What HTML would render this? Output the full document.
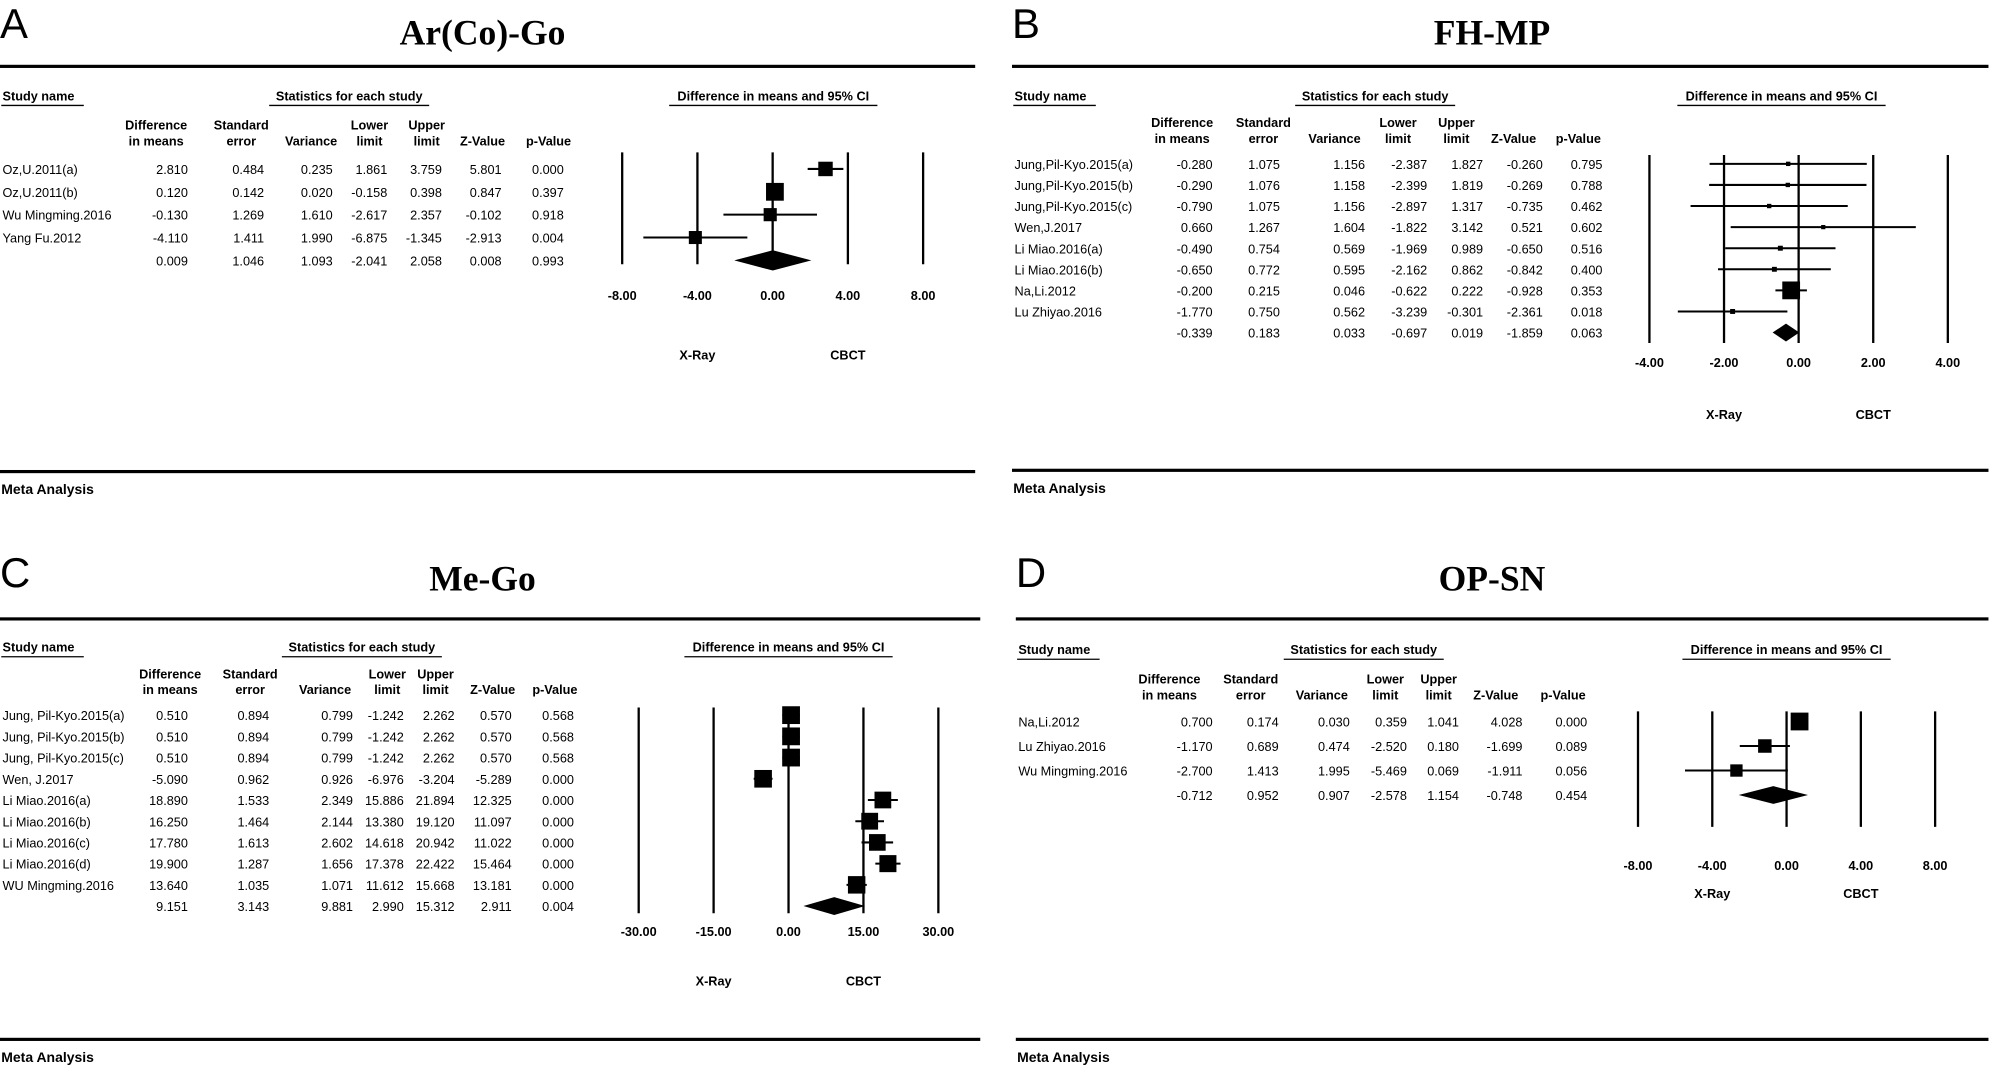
<!DOCTYPE html>
<html><head><meta charset="utf-8"><style>
html,body{margin:0;padding:0;background:#fff;overflow:hidden}
svg{display:block}
text{font-family:"Liberation Sans",Arial,sans-serif;fill:#000}
</style></head><body>
<svg id="fig" width="1991" height="1067" viewBox="0 0 1568 840" preserveAspectRatio="none" xmlns="http://www.w3.org/2000/svg"></svg>
<script>
// ---------- Panel A: Ar(Co)-Go ----------
const aNames=["Oz,U.2011(a)","Oz,U.2011(b)","Wu Mingming.2016","Yang Fu.2012",""];
const aDiff=[2.810,0.120,-0.130,-4.110,0.009];
const aSE=[0.484,0.142,1.269,1.411,1.046];
const aVar=[0.235,0.020,1.610,1.990,1.093];
const aLow=[1.861,-0.158,-2.617,-6.875,-2.041];
const aUp=[3.759,0.398,2.357,-1.345,2.058];
const aZ=[5.801,0.847,-0.102,-2.913,0.008];
const aP=[0.000,0.397,0.918,0.004,0.993];
const aTicks=[-8,-4,0,4,8];
// ---------- Panel B: FH-MP ----------
const bNames=["Jung,Pil-Kyo.2015(a)","Jung,Pil-Kyo.2015(b)","Jung,Pil-Kyo.2015(c)","Wen,J.2017","Li Miao.2016(a)","Li Miao.2016(b)","Na,Li.2012","Lu Zhiyao.2016",""];
const bDiff=[-0.280,-0.290,-0.790,0.660,-0.490,-0.650,-0.200,-1.770,-0.339];
const bSE=[1.075,1.076,1.075,1.267,0.754,0.772,0.215,0.750,0.183];
const bVar=[1.156,1.158,1.156,1.604,0.569,0.595,0.046,0.562,0.033];
const bLow=[-2.387,-2.399,-2.897,-1.822,-1.969,-2.162,-0.622,-3.239,-0.697];
const bUp=[1.827,1.819,1.317,3.142,0.989,0.862,0.222,-0.301,0.019];
const bZ=[-0.260,-0.269,-0.735,0.521,-0.650,-0.842,-0.928,-2.361,-1.859];
const bP=[0.795,0.788,0.462,0.602,0.516,0.400,0.353,0.018,0.063];
const bTicks=[-4,-2,0,2,4];
// ---------- Panel C: Me-Go ----------
const cNames=["Jung, Pil-Kyo.2015(a)","Jung, Pil-Kyo.2015(b)","Jung, Pil-Kyo.2015(c)","Wen, J.2017","Li Miao.2016(a)","Li Miao.2016(b)","Li Miao.2016(c)","Li Miao.2016(d)","WU Mingming.2016",""];
const cDiff=[0.510,0.510,0.510,-5.090,18.890,16.250,17.780,19.900,13.640,9.151];
const cSE=[0.894,0.894,0.894,0.962,1.533,1.464,1.613,1.287,1.035,3.143];
const cVar=[0.799,0.799,0.799,0.926,2.349,2.144,2.602,1.656,1.071,9.881];
const cLow=[-1.242,-1.242,-1.242,-6.976,15.886,13.380,14.618,17.378,11.612,2.990];
const cUp=[2.262,2.262,2.262,-3.204,21.894,19.120,20.942,22.422,15.668,15.312];
const cZ=[0.570,0.570,0.570,-5.289,12.325,11.097,11.022,15.464,13.181,2.911];
const cP=[0.568,0.568,0.568,0.000,0.000,0.000,0.000,0.000,0.000,0.004];
const cTicks=[-30,-15,0,15,30];
// ---------- Panel D: OP-SN ----------
const dNames=["Na,Li.2012","Lu Zhiyao.2016","Wu Mingming.2016",""];
const dDiff=[0.700,-1.170,-2.700,-0.712];
const dSE=[0.174,0.689,1.413,0.952];
const dVar=[0.030,0.474,1.995,0.907];
const dLow=[0.359,-2.520,-5.469,-2.578];
const dUp=[1.041,0.180,0.069,1.154];
const dZ=[4.028,-1.699,-1.911,-0.748];
const dP=[0.000,0.089,0.056,0.454];
const dTicks=[-8,-4,0,4,8];

const NS="http://www.w3.org/2000/svg";
const svg=document.getElementById('fig');
function mk(tag,attrs,parent){const e=document.createElementNS(NS,tag);for(const k in attrs)e.setAttribute(k,attrs[k]);(parent||svg).appendChild(e);return e;}
function txt(str,x,y,opt,parent){const t=mk('text',Object.assign({x:x,y:y,'font-size':11},opt||{}),parent);t.textContent=str;return t;}

const colHdr=[["Difference","in means"],["Standard","error"],["","Variance"],["Lower","limit"],["Upper","limit"],["","Z-Value"],["","p-Value"]];

function panel(cfg){
  const g=mk('g',{});
  
  
  let t=txt(cfg.letter,cfg.ox,cfg.letterY,{'font-size':33},g);
  
  t=txt(cfg.title,cfg.titleX,cfg.titleY,{'font-size':28,'font-weight':'bold','text-anchor':'middle',style:'font-family:"Liberation Serif",serif'},g);
  
  let r=mk('rect',{x:cfg.ox,y:cfg.ruleTop,width:cfg.ruleW,height:2.5,fill:'#000'},g);
  
  r=mk('rect',{x:cfg.ox,y:cfg.ruleBot,width:cfg.ruleW,height:2.5,fill:'#000'},g);
  
  t=txt('Meta Analysis',cfg.ox+1,cfg.ruleBot+19,{'font-size':11,'font-weight':'bold'},g);
  
  const hy=cfg.hdrY;
  t=txt('Study name',cfg.ox+2,hy,{'font-weight':'bold','font-size':10},g);
  
  mk('line',{x1:cfg.ox+1,x2:cfg.ox+66,y1:hy+4,y2:hy+4,stroke:'#000','stroke-width':1},g);
  t=txt('Statistics for each study',cfg.statX,hy,{'font-weight':'bold','font-size':10,'text-anchor':'middle'},g);
  
  mk('line',{x1:cfg.statX-63,x2:cfg.statX+63,y1:hy+4,y2:hy+4,stroke:'#000','stroke-width':1},g);
  t=txt('Difference in means and 95% CI',cfg.ciX,hy,{'font-weight':'bold','font-size':10,'text-anchor':'middle'},g);
  
  mk('line',{x1:cfg.ciX-82,x2:cfg.ciX+82,y1:hy+4,y2:hy+4,stroke:'#000','stroke-width':1},g);
  colHdr.forEach((h,i)=>{
    const a=txt(h[0],cfg.hdrCx[i],cfg.colY,{'font-weight':'bold','font-size':10,'text-anchor':'middle'},g);
    
    const b=txt(h[1],cfg.hdrCx[i],cfg.colY+12.5,{'font-weight':'bold','font-size':10,'text-anchor':'middle'},g);
    
  });
  const xs=v=>cfg.px0+(v-cfg.ticks[0])/(cfg.ticks[cfg.ticks.length-1]-cfg.ticks[0])*(cfg.px1-cfg.px0);
  cfg.ticks.forEach(v=>{
    const l=mk('line',{x1:xs(v),x2:xs(v),y1:cfg.lineTop,y2:cfg.lineBot,stroke:'#000','stroke-width':1.8},g);
    
    const tl=txt(v.toFixed(2),xs(v),cfg.tickY,{'font-weight':'bold','font-size':10,'text-anchor':'middle'},g);
    
  });
  t=txt('X-Ray',xs(cfg.ticks[1]),cfg.favY,{'font-weight':'bold','font-size':10,'text-anchor':'middle'},g);
  
  t=txt('CBCT',xs(cfg.ticks[3]),cfg.favY,{'font-weight':'bold','font-size':10,'text-anchor':'middle'},g);
  
  const d=cfg.data, n=d.names.length;
  const studyVars=d.vr.slice(0,n-1);
  const minVar=Math.min(...studyVars);
  for(let i=0;i<n;i++){
    const y=cfg.row0+i*cfg.rowH;
    if(d.names[i]){const nm=txt(d.names[i],cfg.ox+2,y+4,{'font-size':10},g);}
    const vals=[d.diff[i],d.se[i],d.vr[i],d.lo[i],d.up[i],d.z[i],d.p[i]];
    vals.forEach((v,j)=>{const c=txt(v.toFixed(3),cfg.colR[j],y+4,{'font-size':10,'text-anchor':'end'},g);});
    if(i<n-1){
      const ci=mk('line',{x1:xs(d.lo[i]),x2:xs(d.up[i]),y1:y,y2:y,stroke:'#000','stroke-width':1.6},g);
      
      const s=cfg.sMin+(cfg.sMax-cfg.sMin)*Math.pow(minVar/d.vr[i],cfg.sPow);
      const bx=mk('rect',{x:xs(d.diff[i])-s/2,y:y-s/2,width:s,height:s,fill:'#000'},g);
      
    }else{
      const h=cfg.diaH;
      const dm=mk('polygon',{points:`${xs(d.lo[i])},${y} ${xs(d.diff[i])},${y-h} ${xs(d.up[i])},${y} ${xs(d.diff[i])},${y+h}`,fill:'#000'},g);
      
    }
  }
}

panel({key:'a',letter:'A',ox:0,letterY:30,title:'Ar(Co)-Go',titleX:380,titleY:35,ruleTop:51,ruleBot:370,ruleW:768,
 hdrY:79,statX:275,ciX:609,colY:102,hdrCx:[123,190,245,291,336,380,432],colR:[148,208,262,305,348,395,444],
 row0:133,rowH:18,ticks:aTicks,px0:490,px1:727,lineTop:120,lineBot:208,tickY:236,favY:283,diaH:8,sMin:9,sMax:14,sPow:0.3,
 data:{names:aNames,diff:aDiff,se:aSE,vr:aVar,lo:aLow,up:aUp,z:aZ,p:aP}});
panel({key:'b',letter:'B',ox:797,letterY:30,title:'FH-MP',titleX:1175,titleY:35,ruleTop:51,ruleBot:369,ruleW:769,
 hdrY:79,statX:1083,ciX:1403,colY:100,hdrCx:[931,995,1051,1101,1147,1192,1243],colR:[955,1008,1075,1124,1168,1215,1262],
 row0:129,rowH:16.6,ticks:bTicks,px0:1299,px1:1534,lineTop:122,lineBot:270,tickY:289,favY:330,diaH:7,sMin:3,sMax:14,sPow:1,
 data:{names:bNames,diff:bDiff,se:bSE,vr:bVar,lo:bLow,up:bUp,z:bZ,p:bP}});
panel({key:'c',letter:'C',ox:0,letterY:462,title:'Me-Go',titleX:380,titleY:465,ruleTop:486,ruleBot:817,ruleW:772,
 hdrY:513,statX:285,ciX:621,colY:534,hdrCx:[134,197,256,305,343,388,437],colR:[148,212,278,318,358,403,452],
 row0:563,rowH:16.7,ticks:cTicks,px0:503,px1:739,lineTop:557,lineBot:719,tickY:737,favY:776,diaH:7,sMin:11,sMax:14,sPow:0.3,
 data:{names:cNames,diff:cDiff,se:cSE,vr:cVar,lo:cLow,up:cUp,z:cZ,p:cP}});
panel({key:'d',letter:'D',ox:800,letterY:462,title:'OP-SN',titleX:1175,titleY:465,ruleTop:486,ruleBot:817,ruleW:766,
 hdrY:515,statX:1074,ciX:1407,colY:538,hdrCx:[921,985,1041,1091,1133,1178,1231],colR:[955,1007,1063,1108,1149,1199,1250],
 row0:568,rowH:19.3,ticks:dTicks,px0:1290,px1:1524,lineTop:560,lineBot:651,tickY:685,favY:707,diaH:7,sMin:8,sMax:14,sPow:0.3,
 data:{names:dNames,diff:dDiff,se:dSE,vr:dVar,lo:dLow,up:dUp,z:dZ,p:dP}});
</script>
</body></html>
